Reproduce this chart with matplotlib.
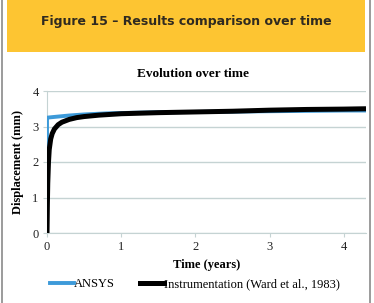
import matplotlib
matplotlib.use("Agg")
import matplotlib.pyplot as plt
from matplotlib.patches import Rectangle
from matplotlib.lines import Line2D

ansys_t = [0.0, 0.0, 0.005, 0.1, 0.2, 0.3, 0.5, 0.8, 1.0, 1.5, 2.0, 2.5, 3.0, 3.5, 4.0, 4.3]
ansys_d = [0.0, 3.2, 3.25, 3.27, 3.29, 3.31, 3.34, 3.37, 3.38, 3.40, 3.41, 3.42, 3.43, 3.44, 3.45, 3.45]

inst_t = [0.0, 0.005, 0.01, 0.02, 0.03, 0.05, 0.07, 0.1, 0.15, 0.2, 0.3, 0.4, 0.5, 0.7, 1.0, 1.5, 2.0, 2.5, 3.0, 3.5, 4.0, 4.3]
inst_d = [0.0, 0.8, 1.4, 2.0, 2.35, 2.65, 2.8, 2.93, 3.05, 3.12, 3.2, 3.25, 3.28, 3.32, 3.36, 3.39, 3.41, 3.43, 3.46, 3.48, 3.49, 3.5]

x_ticks = [0, 1, 2, 3, 4]
y_ticks = [0, 1, 2, 3, 4]

W, H = 374, 303
fig = plt.figure(figsize=(W / 100, H / 100), dpi=100)
fig.patch.set_facecolor("white")

# header band and frame
fig.patches.append(Rectangle((7 / W, 1 - 52 / H), 358 / W, 52 / H, transform=fig.transFigure,
                             facecolor="#FDC532", edgecolor="none", zorder=0))
fig.lines.append(Line2D([2 / W, 2 / W], [0, 1], transform=fig.transFigure, color="#8a8a8a", lw=1.2))
fig.lines.append(Line2D([370 / W, 370 / W], [0, 1], transform=fig.transFigure, color="#8a8a8a", lw=1.2))
fig.text(186 / W, 1 - 21 / H, "Figure 15 – Results comparison over time", ha="center", va="center",
         fontsize=9, fontweight="bold", color="#2f2a20", family="DejaVu Sans")

ax = fig.add_axes([47 / W, 1 - 233 / H, (366 - 47) / W, (233 - 91) / H])
ax.set_xlim(0, 4.3)
ax.set_ylim(0, 4)
ax.plot(ansys_t, ansys_d, color="#3D9AD9", lw=2.8, zorder=3, solid_capstyle="butt")
ax.plot(inst_t, inst_d, color="#000000", lw=3.6, zorder=4, solid_capstyle="butt")

ax.set_xticks(x_ticks)
ax.set_yticks(y_ticks)
ax.grid(axis="y", color="#c5d3d3", lw=1)
ax.set_axisbelow(True)
for s in ["top", "right"]:
    ax.spines[s].set_visible(False)
ax.spines["left"].set_color("#c5d3d3")
ax.spines["bottom"].set_color("#c5d3d3")
ax.tick_params(axis="both", length=3, color="#c5d3d3", labelsize=9, pad=3)
for lbl in ax.get_xticklabels() + ax.get_yticklabels():
    lbl.set_family("Liberation Serif")
    lbl.set_color("#222222")

ax.set_xlabel("Time (years)", family="Liberation Serif", fontweight="bold", fontsize=9, labelpad=4)
ax.set_ylabel("Displacement (mm)", family="Liberation Serif", fontweight="bold", fontsize=9, labelpad=6)
fig.text(193 / W, 1 - 74 / H, "Evolution over time", ha="center", va="center",
         family="Liberation Serif", fontweight="bold", fontsize=9.5)

handles = [Line2D([], [], color="#3D9AD9", lw=2.8), Line2D([], [], color="#000000", lw=3.6)]
fig.legend(handles, ["ANSYS", "Instrumentation (Ward et al., 1983)"], loc="center",
           bbox_to_anchor=(195 / W, 1 - 284 / H), ncol=2, frameon=False, handlelength=1.9,
           handletextpad=0.05, columnspacing=2.0, prop={"family": "Liberation Serif", "size": 9})

fig.savefig("out.png", dpi=100, facecolor="white")
